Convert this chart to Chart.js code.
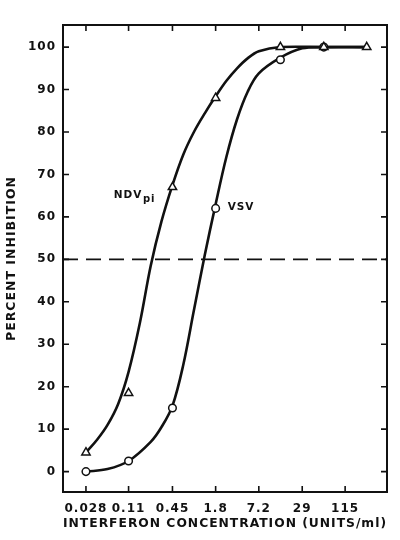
<!DOCTYPE html>
<html>
<head>
<meta charset="utf-8">
<script src="https://cdn.jsdelivr.net/npm/chart.js@4.4.1/dist/chart.umd.min.js"></script>
<style>
  html, body { margin: 0; padding: 0; background: #fff; }
</style>
</head>
<body>
<canvas id="chart" width="400" height="540"></canvas>
<script>
// interferon concentration (units/ml), 4-fold steps
const concTicks = [0.028, 0.11, 0.45, 1.8, 7.2, 29, 115];
const percentTicks = [0, 10, 20, 30, 40, 50, 60, 70, 80, 90, 100];

// measured points
const ndvConc = [0.028, 0.11, 0.45, 1.8, 14.4, 58, 230];
const ndvInhibition = [4.5, 18.5, 67, 88, 100, 100, 100];
const vsvConc = [0.028, 0.11, 0.45, 1.8, 14.4, 58];
const vsvInhibition = [0, 2.5, 15, 62, 97, 100];

// drawn curves
const ndvCurveConc = [0.028, 0.04, 0.056, 0.079, 0.11, 0.158, 0.224, 0.317, 0.45, 0.634, 0.896, 1.27, 1.8, 2.53, 3.58, 5.07, 7.2, 14.4, 58, 230];
const ndvCurveInhibition = [4.5, 7.5, 11, 16, 23.5, 35, 48.5, 59, 67.5, 74.6, 80, 84.4, 88.4, 92, 95, 97.4, 99, 100, 100, 100];
const vsvCurveConc = [0.028, 0.056, 0.11, 0.224, 0.317, 0.45, 0.634, 0.896, 1.27, 1.8, 2.53, 3.58, 5.07, 7.2, 14.4, 29, 58, 230];
const vsvCurveInhibition = [0, 0.6, 2.5, 7, 10.5, 15.5, 25, 38, 51, 63, 74, 83, 89.6, 93.8, 97.5, 99.7, 100, 100];

const halfLine = 50;
const xMin = 0.0134, xMax = 441;
const yMin = -4.8, yMax = 105.2;

const ink = '#111';
const fontFamily = '"DejaVu Sans", sans-serif';

const toXY = (xs, ys) => xs.map((v, i) => ({ x: v, y: ys[i] }));

const frameTicks = {
    id: 'frameTicks',
    beforeDraw(chart) {
        chart.ctx.letterSpacing = '1px';
    },
    afterDraw(chart) {
        const { ctx, chartArea: a, scales: { x, y } } = chart;
        ctx.save();
        ctx.strokeStyle = ink;
        ctx.lineWidth = 2;
        ctx.strokeRect(a.left, a.top, a.right - a.left, a.bottom - a.top);
        ctx.lineWidth = 1.6;
        ctx.beginPath();
        x.ticks.forEach(t => {
            const px = x.getPixelForValue(t.value);
            ctx.moveTo(px, a.bottom); ctx.lineTo(px, a.bottom - 6);
            ctx.moveTo(px, a.top); ctx.lineTo(px, a.top + 6);
        });
        y.ticks.forEach(t => {
            const py = y.getPixelForValue(t.value);
            ctx.moveTo(a.left, py); ctx.lineTo(a.left + 6, py);
            ctx.moveTo(a.right, py); ctx.lineTo(a.right - 6, py);
        });
        ctx.stroke();
        ctx.restore();
    }
};

const seriesLabels = {
    id: 'seriesLabels',
    afterDatasetsDraw(chart) {
        const { ctx, scales: { x, y } } = chart;
        ctx.save();
        ctx.fillStyle = ink;
        ctx.textBaseline = 'alphabetic';

        // NDVpi, left of the triangle at 0.45
        let px = x.getPixelForValue(ndvConc[2]);
        let py = y.getPixelForValue(ndvInhibition[2]);
        ctx.font = 'bold 10.5px ' + fontFamily;
        ctx.textAlign = 'right';
        ctx.fillText('NDV', px - 30, py + 10.5);
        ctx.font = 'bold 10px ' + fontFamily;
        ctx.textAlign = 'left';
        ctx.fillText('pi', px - 29.5, py + 15);

        // VSV, right of the circle at 1.8
        px = x.getPixelForValue(vsvConc[3]);
        py = y.getPixelForValue(vsvInhibition[3]);
        ctx.font = 'bold 10.5px ' + fontFamily;
        ctx.fillText('VSV', px + 12, py + 2);
        ctx.restore();
    }
};

Chart.defaults.color = ink;
Chart.defaults.font.family = fontFamily;

const ctx = document.getElementById('chart').getContext('2d');
new Chart(ctx, {
    type: 'scatter',
    data: {
        datasets: [
            {
                label: 'NDVpi',
                data: toXY(ndvConc, ndvInhibition),
                pointStyle: 'triangle',
                pointRadius: 4.8,
                pointBorderWidth: 1.5,
                pointBackgroundColor: '#fff',
                pointBorderColor: ink,
                showLine: false
            },
            {
                label: 'VSV',
                data: toXY(vsvConc, vsvInhibition),
                pointStyle: 'circle',
                pointRadius: 3.8,
                pointBorderWidth: 1.5,
                pointBackgroundColor: '#fff',
                pointBorderColor: ink,
                showLine: false
            },
            {
                label: 'NDVpi curve',
                data: toXY(ndvCurveConc, ndvCurveInhibition),
                showLine: true,
                borderColor: ink,
                borderWidth: 2.6,
                pointRadius: 0,
                tension: 0.35
            },
            {
                label: 'VSV curve',
                data: toXY(vsvCurveConc, vsvCurveInhibition),
                showLine: true,
                borderColor: ink,
                borderWidth: 2.6,
                pointRadius: 0,
                tension: 0.35
            },
            {
                label: '50%',
                data: [{ x: xMin, y: halfLine }, { x: xMax, y: halfLine }],
                showLine: true,
                borderColor: ink,
                borderWidth: 1.6,
                borderDash: [15, 8],
                pointRadius: 0
            }
        ]
    },
    options: {
        responsive: false,
        animation: false,
        layout: {
            padding: { top: 25, right: 13, left: 0, bottom: 0 }
        },
        plugins: {
            legend: { display: false },
            tooltip: { enabled: false }
        },
        scales: {
            x: {
                type: 'logarithmic',
                min: xMin,
                max: xMax,
                afterBuildTicks: axis => {
                    axis.ticks = concTicks.map(v => ({ value: v }));
                },
                afterFit: axis => { axis.height = 48; },
                grid: { display: false, drawTicks: false },
                border: { display: false },
                ticks: {
                    autoSkip: false,
                    maxRotation: 0,
                    padding: 10,
                    font: { size: 12, weight: 'bold' },
                    callback: (value, index) => String(concTicks[index])
                },
                title: {
                    display: true,
                    text: 'INTERFERON CONCENTRATION (UNITS/ml)',
                    font: { size: 12.5, weight: 'bold' },
                    padding: { top: 0, bottom: 9 }
                }
            },
            y: {
                type: 'linear',
                min: yMin,
                max: yMax,
                afterBuildTicks: axis => {
                    axis.ticks = percentTicks.map(v => ({ value: v }));
                },
                afterFit: axis => { axis.width = 63; },
                grid: { display: false, drawTicks: false },
                border: { display: false },
                ticks: {
                    padding: 7,
                    font: { size: 12, weight: 'bold' },
                    callback: value => String(value)
                },
                title: {
                    display: true,
                    text: 'PERCENT INHIBITION',
                    font: { size: 12.5, weight: 'bold' },
                    padding: { top: 4, bottom: 0 }
                }
            }
        }
    },
    plugins: [frameTicks, seriesLabels]
});
</script>
</body>
</html>
